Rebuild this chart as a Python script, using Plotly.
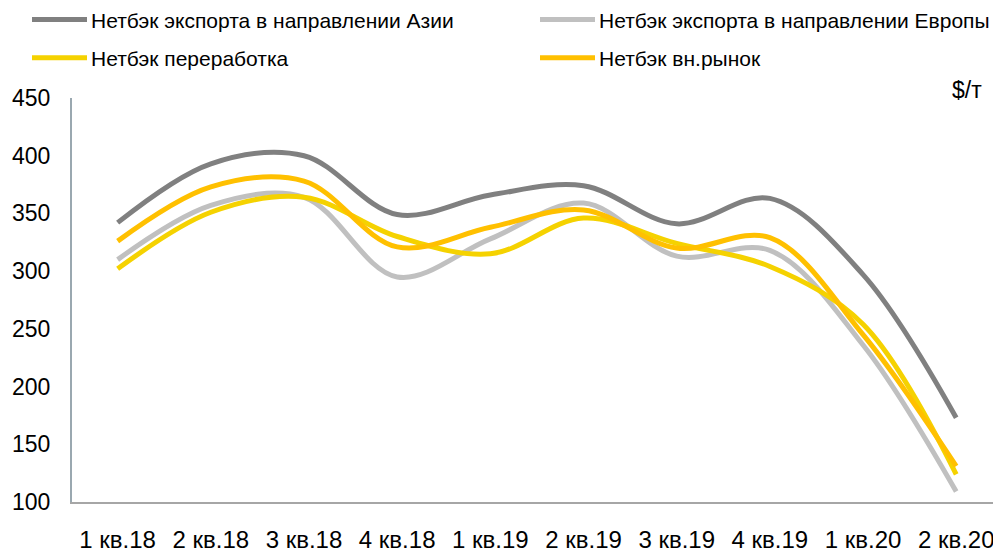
import plotly.graph_objects as go

categories = ["1 кв.18", "2 кв.18", "3 кв.18", "4 кв.18", "1 кв.19",
              "2 кв.19", "3 кв.19", "4 кв.19", "1 кв.20", "2 кв.20"]
asia = [342, 393, 400, 349, 366, 374, 341, 363, 297, 173]
europe = [310, 357, 364, 295, 328, 359, 313, 318, 236, 109]
processing = [302, 351, 364, 330, 315, 346, 324, 304, 254, 124]
domestic = [326, 373, 378, 321, 338, 353, 320, 329, 245, 131]

series_names = ["Нетбэк экспорта в направлении Азии",
                "Нетбэк экспорта в направлении Европы",
                "Нетбэк переработка",
                "Нетбэк вн.рынок"]
y_ticks = [100, 150, 200, 250, 300, 350, 400, 450]
unit_label = "$/т"

colors = ["#808080", "#c0c0c0", "#f5d200", "#ffc000"]
series = [asia, europe, processing, domestic]

FONT = "Liberation Sans, Arial, sans-serif"

# The page body has an 8px margin, so the figure is drawn at (8, 8).
OFF = 8
W, H = 1001 - OFF, 554 - OFF
PLOT_L, PLOT_R, PLOT_T, PLOT_B = 72, 1000, 98, 510  # page pixels


def px(x):
    return (x - PLOT_L) / (PLOT_R - PLOT_L)


def py(y):
    return (PLOT_B - y) / (PLOT_B - PLOT_T)


fig = go.Figure()
for name, vals, col in zip(series_names, series, colors):
    fig.add_trace(go.Scatter(
        x=categories, y=vals, mode="lines", name=name,
        line=dict(color=col, width=5, shape="spline", smoothing=1.0),
        showlegend=False, hoverinfo="x+y+name",
    ))

# manual legend (two columns)
leg_pos = [(32, 18), (540, 18), (32, 57), (540, 57)]
for (lx, ly), name, col in zip(leg_pos, series_names, colors):
    fig.add_shape(type="line", xref="paper", yref="paper",
                  x0=px(lx), x1=px(lx + 55), y0=py(ly), y1=py(ly),
                  line=dict(color=col, width=5))
    fig.add_annotation(xref="paper", yref="paper",
                       x=px(lx + 57), y=py(ly + 1),
                       xanchor="left", yanchor="middle", showarrow=False,
                       text=name, font=dict(family=FONT, size=21, color="#000000"))

fig.add_annotation(xref="paper", yref="paper",
                   x=px(984), y=py(90),
                   xanchor="right", yanchor="middle", showarrow=False,
                   text=unit_label, font=dict(family=FONT, size=23, color="#000000"))

fig.update_layout(
    width=W, height=H,
    margin=dict(l=PLOT_L - OFF, r=1001 - PLOT_R, t=PLOT_T - OFF, b=554 - PLOT_B),
    paper_bgcolor="white", plot_bgcolor="white",
    font=dict(family=FONT, color="#000000"),
    xaxis=dict(type="category", range=[-0.49, 9.47], showgrid=False,
               showline=True, linecolor="#a6a6a6", linewidth=2,
               ticks="", tickfont=dict(size=24, family=FONT, color="#000000"),
               ticklabelstandoff=15, zeroline=False, fixedrange=True),
    yaxis=dict(range=[100, 450], tickvals=y_ticks, showgrid=False,
               showline=True, linecolor="#9aa8b0", linewidth=2,
               ticks="", tickfont=dict(size=23, family=FONT, color="#000000"),
               ticklabelstandoff=15, zeroline=False, fixedrange=True),
)

fig.write_html("out.html")
